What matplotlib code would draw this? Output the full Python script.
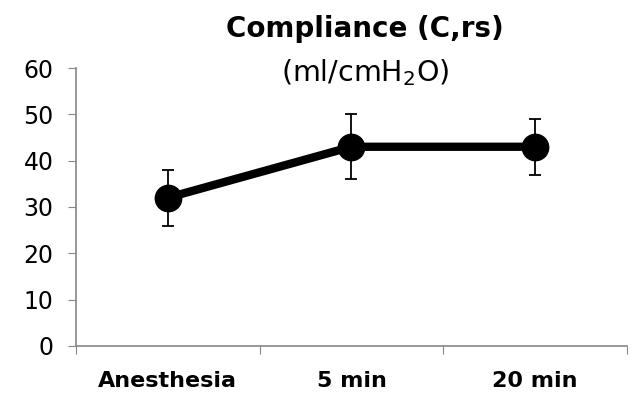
import numpy as np
import matplotlib
matplotlib.use('Agg')
import matplotlib.pyplot as plt

categories = ['Anesthesia', '5 min', '20 min']
compliance = [32, 43, 43]
err_low = [6, 7, 6]
err_high = [6, 7, 6]
yticks = [0, 10, 20, 30, 40, 50, 60]

fig = plt.figure(figsize=(6.33, 3.97), dpi=100)
ax = fig.add_axes([0.12, 0.1285, 0.8705, 0.7002])

x = np.arange(len(categories)) + 0.5
ax.errorbar(x, compliance, yerr=[err_low, err_high], fmt='none',
            ecolor='black', elinewidth=1.3, capsize=4.5, capthick=1.3, zorder=2)
ax.plot(x, compliance, color='black', lw=6, marker='o', markersize=19, zorder=3)

ax.set_xlim(0, len(categories))
ax.set_ylim(0, 60)
ax.set_yticks(yticks)
ax.set_yticklabels([str(v) for v in yticks], fontsize=17)

ax.set_xticks(np.arange(len(categories) + 1))
ax.set_xticklabels([])
ax.set_xticks(x, minor=True)
ax.set_xticklabels(categories, minor=True, fontsize=16, fontweight='bold')
ax.tick_params(axis='x', which='minor', length=0, pad=18)
ax.tick_params(axis='x', which='major', length=6, color='#868686', direction='out')
ax.tick_params(axis='y', length=6, color='#868686', direction='out', pad=10)

for s in ['top', 'right']:
    ax.spines[s].set_visible(False)
for s in ['left', 'bottom']:
    ax.spines[s].set_color('#868686')
    ax.spines[s].set_linewidth(1.2)

fig.text(0.577, 0.928, 'Compliance (C,rs)', ha='center', va='center',
         fontsize=20, fontweight='bold')
fig.text(0.577, 0.818, '(ml/cmH$_2$O)', ha='center', va='center', fontsize=20.5)

fig.savefig('out.png', dpi=100)
